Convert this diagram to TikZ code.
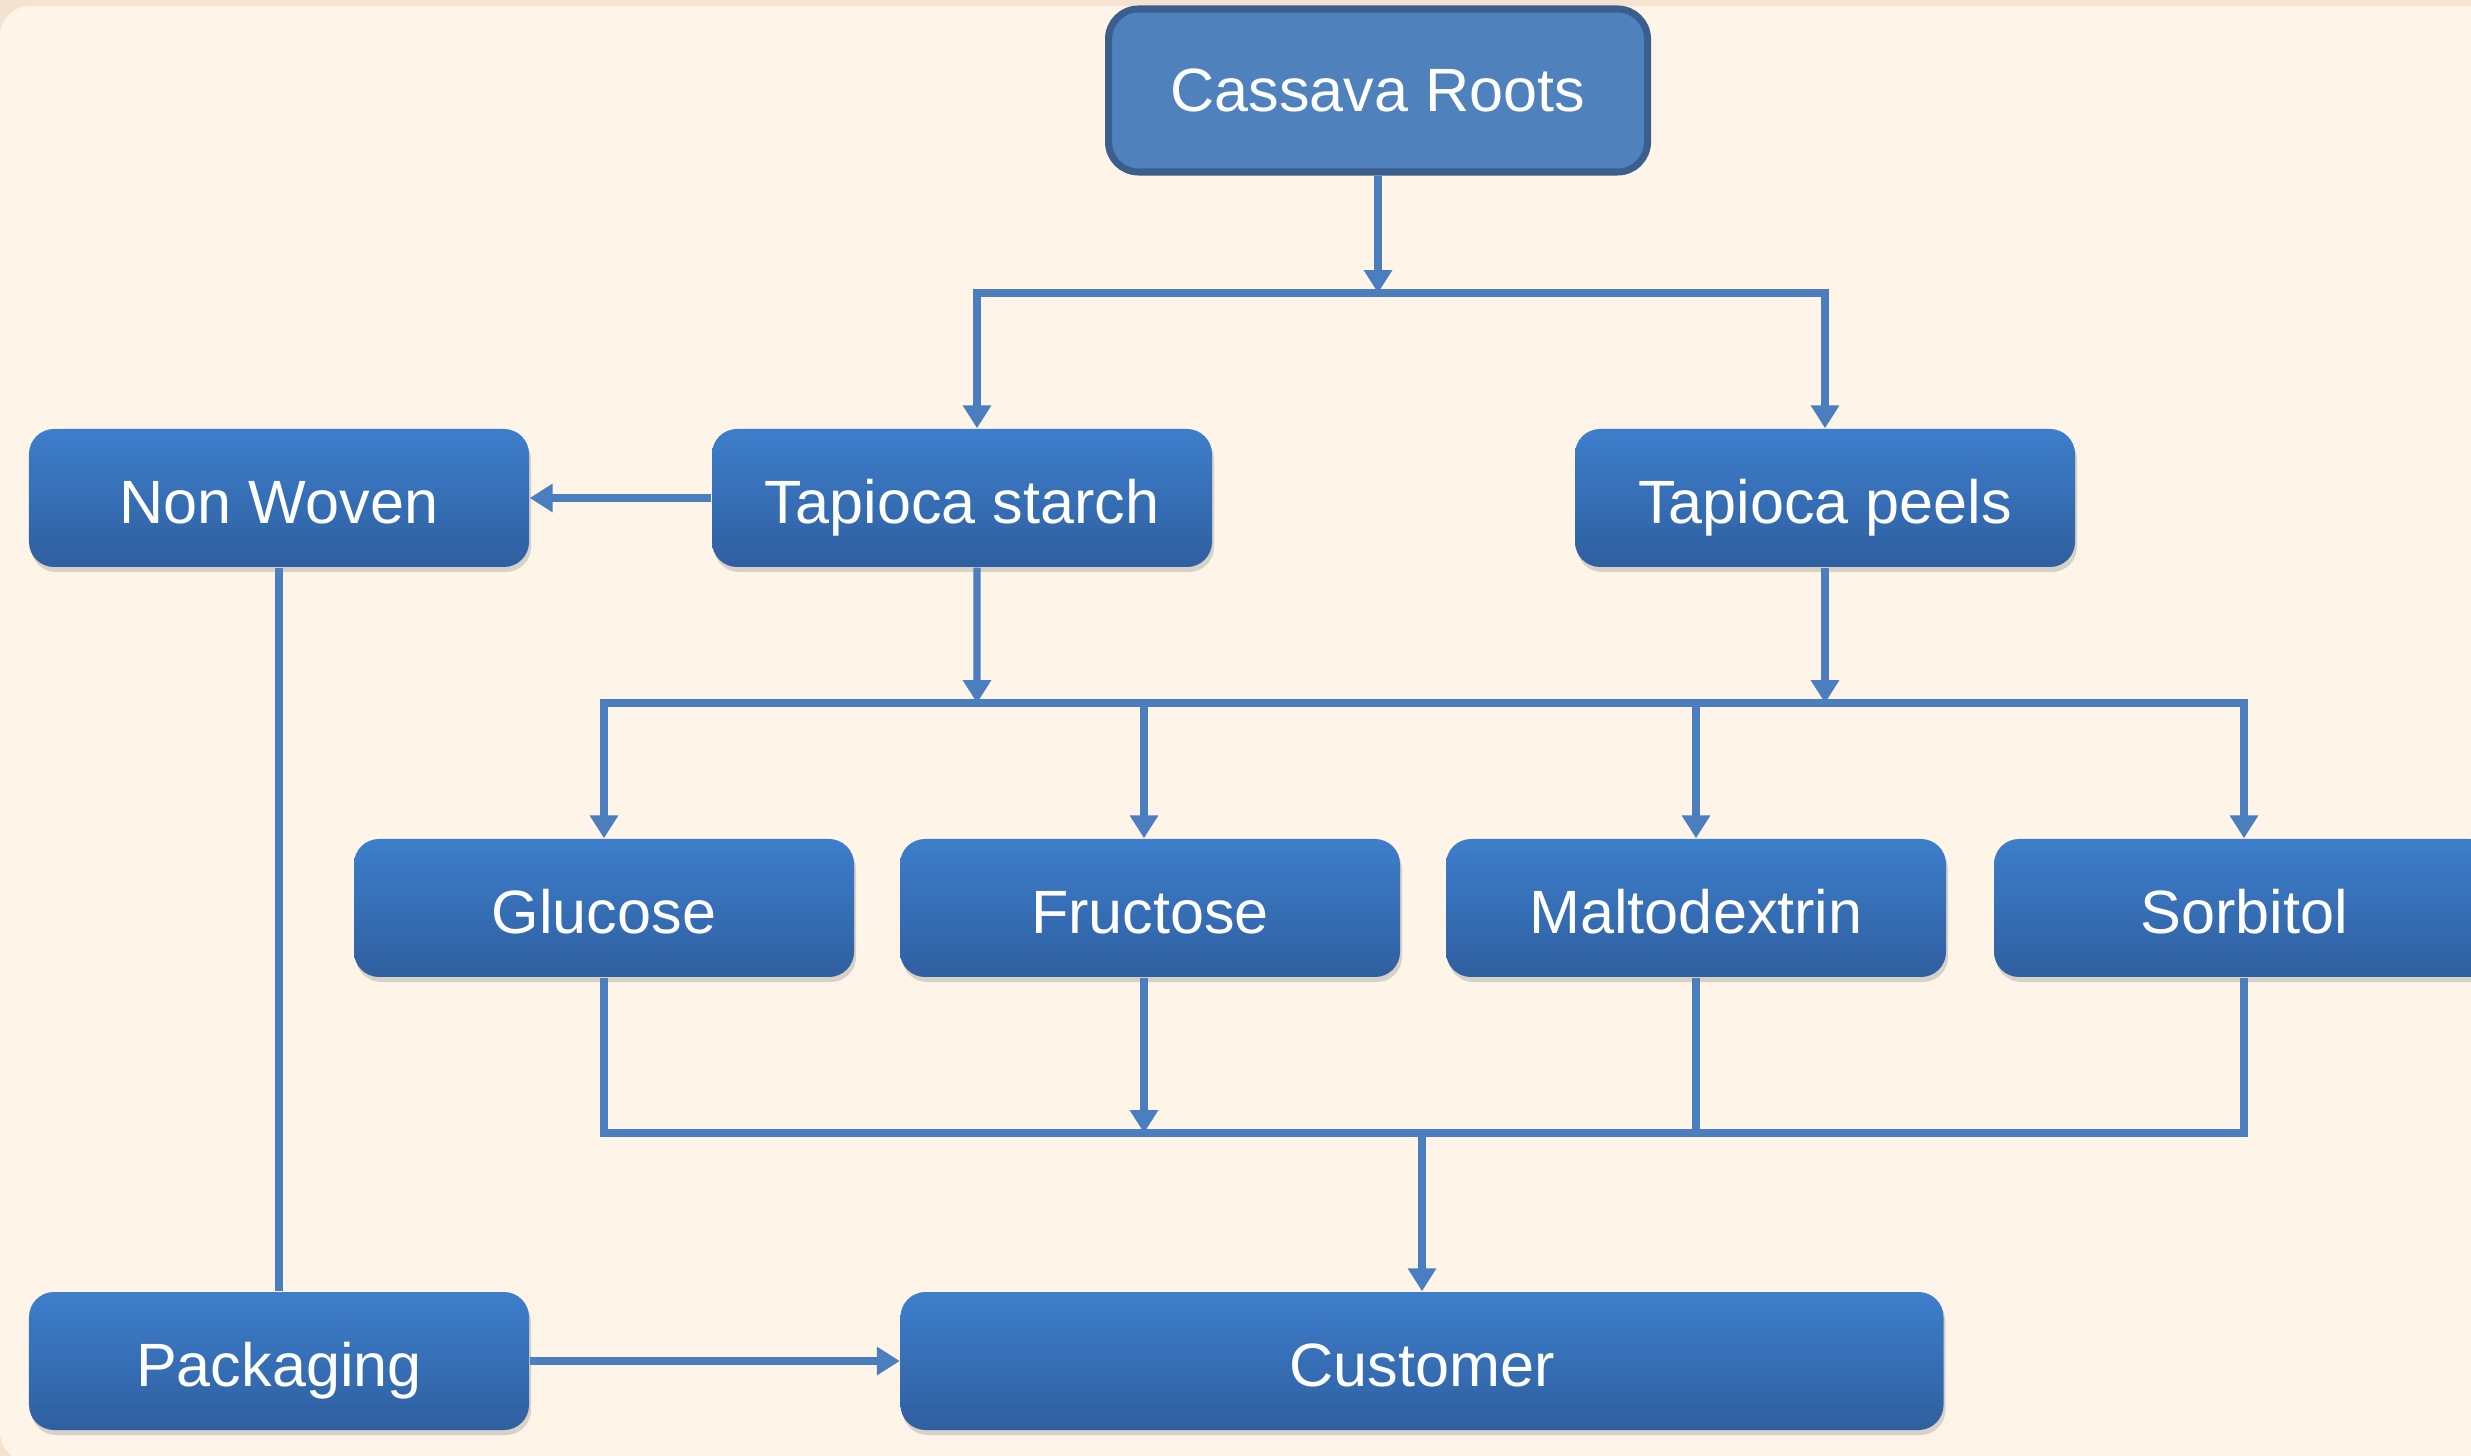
\documentclass[tikz,border=0pt]{standalone}
\usepackage{fontspec}
\setmainfont{Liberation Sans}
\usetikzlibrary{arrows.meta,shadows}

\definecolor{bgout}{HTML}{F3E3D0}
\definecolor{bgin}{HTML}{FEF5E8}
\definecolor{boxtop}{HTML}{3D7ECB}
\definecolor{boxbot}{HTML}{2F5FA0}
\definecolor{rootfill}{HTML}{4F81BD}
\definecolor{rootedge}{HTML}{3B5E8C}
\definecolor{wireblue}{HTML}{4A7EBF}

\begin{document}
\begin{tikzpicture}[
  box/.style={rounded corners=0.25cm, minimum width=5cm, minimum height=1.38cm,
    top color=boxtop, bottom color=boxbot, text=white,
    text height=16pt, text depth=1.7pt,
    font=\fontsize{17.4}{20}\selectfont,
    drop shadow={shadow xshift=0.02cm, shadow yshift=-0.05cm, opacity=0.3}},
  rootbox/.style={rounded corners=0.3cm, minimum width=5.39cm, minimum height=1.63cm,
    draw=rootedge, line width=2pt, fill=rootfill, text=white,
    font=\fontsize{17.4}{20}\selectfont},
  wire/.style={draw=wireblue, line width=2.1pt},
  arr/.style={wire, -{Triangle[width=7.7pt,length=6.5pt]}}
]
% background
\useasboundingbox (0,0) rectangle (24.71,-14.56);
\clip (0,0) rectangle (24.71,-14.56);
\fill[bgout] (0,0) rectangle (24.71,-14.56);
\fill[bgin, rounded corners=0.3cm] (0,-0.06) rectangle (25.5,-14.62);

% boxes
\node[rootbox] (roots) at (13.78,-0.905) {Cassava Roots};
\node[box] (nonwoven) at (2.79,-4.98) {Non Woven};
\node[box] (starch) at (9.62,-4.98) {Tapioca starch};
\node[box] (peels) at (18.25,-4.98) {Tapioca peels};
\node[box] (glucose) at (6.04,-9.08) {Glucose};
\node[box] (fructose) at (11.50,-9.08) {Fructose};
\node[box] (malto) at (16.96,-9.08) {Maltodextrin};
\node[box] (sorbitol) at (22.44,-9.08) {Sorbitol};
\node[box] (packaging) at (2.79,-13.61) {Packaging};
\node[box, minimum width=10.43cm] (customer) at (14.22,-13.61) {Customer};

% junctions
\coordinate (split1) at (13.78,-2.93);
\coordinate (split2) at (9.77,-7.03);
\coordinate (split3) at (18.25,-7.03);
\coordinate (fructin) at (11.44,-11.33);
\coordinate (merge) at (14.22,-11.33);

% roots to starch and peels
\draw[arr] (roots) -- (split1);
\draw[arr] (split1) -| ([xshift=0.15cm]starch.north);
\draw[arr] (split1) -| (peels.north);

% starch and peels to products
\draw[arr] ([xshift=0.15cm]starch.south) -- (split2);
\draw[arr] (peels.south) -- (split3);
\draw[wire] (split2) -- (split3);
\draw[arr] (split2) -| (glucose.north);
\draw[arr] (split2) -| ([xshift=-0.06cm]fructose.north);
\draw[arr] (split3) -| (malto.north);
\draw[arr] (split3) -| (sorbitol.north);

% products to customer
\draw[wire] (glucose.south) |- (merge);
\draw[arr] ([xshift=-0.06cm]fructose.south) -- (fructin);
\draw[wire] (malto.south) |- (merge);
\draw[wire] (sorbitol.south) |- (merge);
\draw[arr] (merge) -- (customer.north);

% non woven branch
\draw[arr] (starch.west) -- (nonwoven.east);
\draw[wire] (nonwoven.south) -- (packaging.north);
\draw[arr] (packaging.east) -- (customer.west);
\end{tikzpicture}
\end{document}
